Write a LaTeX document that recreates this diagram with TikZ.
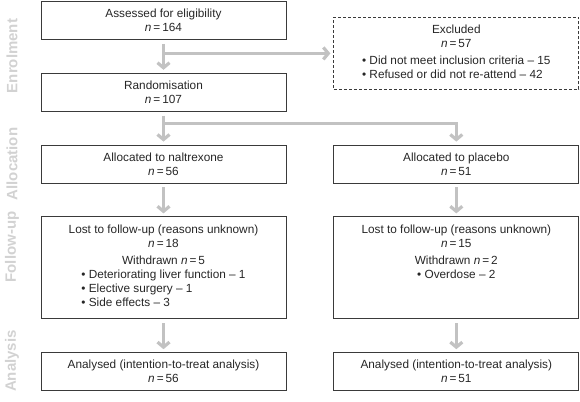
\documentclass[tikz,border=0pt]{standalone}
\usepackage{fontspec}
\setmainfont{Liberation Sans}
\usepackage{tikz}
\usetikzlibrary{arrows.meta,positioning}
\definecolor{arrowgray}{HTML}{C2C2C2}
\definecolor{stagegray}{HTML}{D2D2D2}
\definecolor{boxline}{HTML}{3A3A3A}
\newcommand{\nval}[1]{\textit{n}\,=\,#1}
\newcommand{\bul}{\textbullet\ }

\begin{document}
\begin{tikzpicture}[
  node distance=33pt and 47pt,
  box/.style={draw=boxline,line width=0.8pt,align=center,minimum height=38pt,minimum width=245pt,inner sep=2pt,text=black!85,font=\fontsize{11.8pt}{14pt}\selectfont},
  exbox/.style={box,dash pattern=on 3pt off 2pt,minimum height=72pt},
  tallbox/.style={box,minimum height=102pt},
  stage/.style={rotate=90,text=stagegray,font=\fontsize{15pt}{15pt}\selectfont\bfseries},
  arrow/.style={-{Straight Barb[length=5pt,width=12pt]},line width=3.2pt,draw=arrowgray,shorten >=3pt}
]
\useasboundingbox (0,0) rectangle (580pt,-401pt);
\node[box,anchor=north] (assess) at (163.5pt,-1pt) {Assessed for eligibility\\\nval{164}};
\node[exbox,anchor=north west] (excl) at ([xshift=47pt,yshift=-16pt]assess.north east) {Excluded\\\nval{57}\\[3pt]\begin{tabular}[t]{@{}l@{}}\bul Did not meet inclusion criteria -- 15\\\bul Refused or did not re-attend -- 42\end{tabular}};
\node[box,below=of assess] (rand) {Randomisation\\\nval{107}};
\node[box,below=of rand] (alnal) {Allocated to naltrexone\\\nval{56}};
\node[box,right=of alnal] (alplac) {Allocated to placebo\\\nval{51}};
\node[tallbox,below=of alnal] (funal) {Lost to follow-up (reasons unknown)\\\nval{18}\\[3pt]Withdrawn \nval{5}\\\begin{tabular}[t]{@{}l@{}}\bul Deteriorating liver function -- 1\\\bul Elective surgery -- 1\\\bul Side effects -- 3\end{tabular}};
\node[tallbox,below=of alplac] (fuplac) {Lost to follow-up (reasons unknown)\\\nval{15}\\[3pt]Withdrawn \nval{2}\\\begin{tabular}[t]{@{}l@{}}\bul Overdose -- 2\\\mbox{}\\\mbox{}\end{tabular}};
\node[box,below=of funal] (annal) {Analysed (intention-to-treat analysis)\\\nval{56}};
\node[box,below=of fuplac] (anplac) {Analysed (intention-to-treat analysis)\\\nval{51}};
\node[stage] (stenrol) at (12pt,-56pt) {Enrolment};
\node[stage] (stalloc) at (12pt,-164pt) {Allocation};
\node[stage] (stfollow) at (12pt,-247pt) {Follow-up};
\node[stage] (stanal) at (12pt,-361pt) {Analysis};
\draw[arrow,shorten <=4pt] (assess) -- (rand);
\draw[arrow] (assess.south |- excl.west) -- (excl);
\draw[arrow,shorten <=4pt] (rand) -- (alnal);
\draw[arrow] ([yshift=-12pt]rand.south) -| (alplac);
\draw[arrow,shorten <=4pt] (alnal) -- (funal);
\draw[arrow,shorten <=4pt] (alplac) -- (fuplac);
\draw[arrow,shorten <=4pt] (funal) -- (annal);
\draw[arrow,shorten <=4pt] (fuplac) -- (anplac);
\end{tikzpicture}
\end{document}
